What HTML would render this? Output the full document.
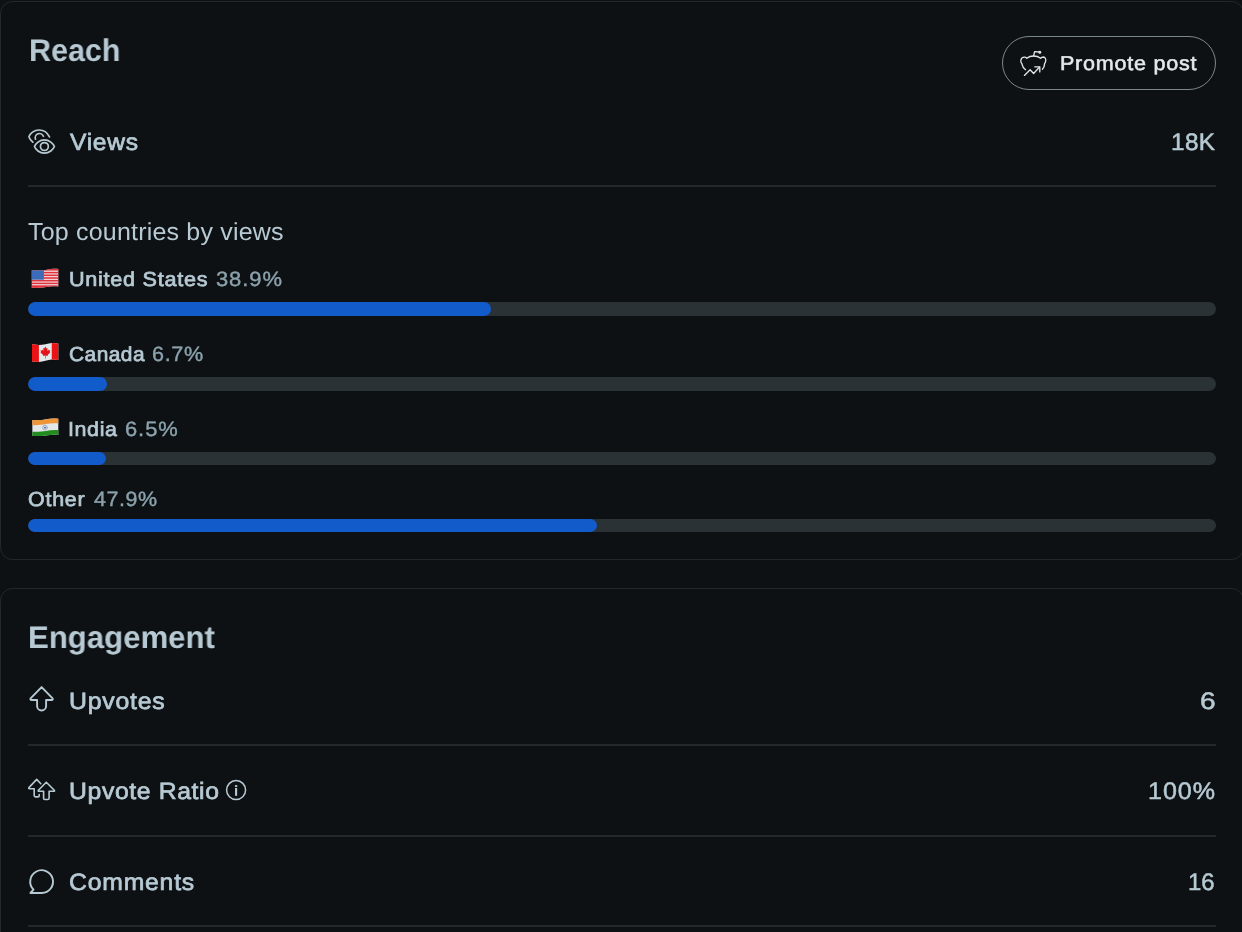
<!DOCTYPE html>
<html>
<head>
<meta charset="utf-8">
<title>Post insights</title>
<style>
  html, body { margin:0; padding:0; }
  body { width:1242px; height:932px; overflow:hidden; position:relative; background:#0E1113;
         font-family:"Liberation Sans", sans-serif; }
  .card { position:absolute; box-sizing:border-box; border:1.5px solid #23282B; border-radius:12.5px; background:#0E1113; }
  #card1 { left:-0.2px; top:0.6px; width:1244.4px; height:559.6px; }
  #card2 { left:-0.2px; top:587.7px; width:1244.4px; height:420px; }
  .div { position:absolute; left:28px; width:1188px; height:2px; background:#23282B; }
  .track { position:absolute; left:28px; width:1188px; height:13.6px; border-radius:7px; background:#2A3236; overflow:hidden; }
  .fill { position:absolute; left:0; top:0; height:100%; border-radius:7px; background:#125BCB; }
  .t { position:absolute; white-space:nowrap; line-height:1; transform-origin:0 0; display:block; text-rendering:geometricPrecision; will-change:transform; }
  .btn { position:absolute; box-sizing:border-box; left:1001.6px; top:35.6px; width:214.6px; height:54.4px; border-radius:28px; border:1.3px solid #7C878C; }
  svg { position:absolute; overflow:visible; }
</style>
</head>
<body>
<div class="card" id="card1"></div>
<div class="card" id="card2"></div>

<div class="btn"></div>

<div class="div" style="top:184.8px"></div>
<div class="div" style="top:744.0px"></div>
<div class="div" style="top:834.6px"></div>
<div class="div" style="top:925.2px"></div>

<div class="track" style="top:302.0px"><div class="fill" style="width:463px"></div></div>
<div class="track" style="top:377.0px"><div class="fill" style="width:79.2px"></div></div>
<div class="track" style="top:451.8px"><div class="fill" style="width:78px"></div></div>
<div class="track" style="top:518.6px"><div class="fill" style="width:569px"></div></div>

<svg id="ov" width="1242" height="932" viewBox="0 0 1242 932" style="left:0;top:0" fill="none" stroke-linecap="round" stroke-linejoin="round">
  <!-- promote icon -->
  <g stroke="#DEE6EA" stroke-width="1.35">
    <path d="M1025.6 69.7 C1023.4 68.2 1022.3 66.2 1021.8 63.6 C1020.8 62.8 1020.6 61.2 1020.9 59.9 C1021.4 57.9 1023.0 56.9 1025.0 57.1 C1025.8 57.2 1026.3 57.7 1026.7 58.3 C1028.5 56.9 1030.8 56.0 1033.5 56.0 C1036.2 56.0 1038.8 56.9 1040.6 58.3 C1041.2 57.5 1042.2 57.0 1043.3 57.0 C1045.1 57.1 1046.1 59.0 1045.7 61.0 C1045.5 62.2 1045.1 63.1 1044.6 63.6 C1044.5 66.0 1043.7 68.0 1042.4 69.3"/>
    <path d="M1033.6 55.9 L1034.6 51.6 L1038.6 51.8"/>
    <circle cx="1039.8" cy="52.3" r="0.9" fill="#DEE6EA"/>
    <path d="M1024.4 75.4 L1030.1 69.8 L1033.6 73.5 L1039.4 67.3"/>
    <path d="M1034.8 66.8 L1039.8 66.8 L1039.8 71.9"/>
  </g>
  <!-- views icon -->
  <g stroke="#B7CAD4" stroke-width="1.7">
    <path d="M32.9 142.2 C31.0 140.8 29.6 138.6 28.9 136.7 C30.0 133.6 34.0 130.0 39.0 130.0 C43.4 130.0 47.6 133.0 49.5 136.9"/>
    <path d="M35.5 139.2 A4.2 4.2 0 0 1 43.4 136.3"/>
    <path d="M34.5 146.5 C35.5 143.5 39.5 139.9 44.4 139.9 C49.3 139.9 53.3 143.5 54.4 146.5 C53.3 149.5 49.3 153.2 44.4 153.2 C39.5 153.2 35.5 149.5 34.5 146.5 Z"/>
    <circle cx="44.4" cy="146.5" r="3.95"/>
  </g>
  <!-- upvote icon -->
  <g stroke="#B7CAD4" stroke-width="1.9">
    <path d="M41.6 687.1 L52.6 698.4 Q53.3 700.0 51.6 700.0 L46.1 700.0 L46.1 706.0 A4.5 4.5 0 0 1 37.1 706.0 L37.1 700.0 L31.6 700.0 Q29.9 700.0 30.6 698.4 Z"/>
  </g>
  <!-- upvote ratio icon -->
  <g stroke="#B7CAD4" stroke-width="1.6">
    <path d="M40.8 783.7 L36.7 779.4 L28.9 787.6 Q28.3 788.7 29.5 788.8 L34.2 788.8 L34.2 795.6 Q34.2 796.9 35.5 796.9 L38.0 796.9 Q39.2 796.9 39.2 795.7 L39.2 794.6"/>
    <path d="M46.3 782.2 L54.3 790.2 Q54.9 791.3 53.7 791.3 L49.1 791.3 L49.1 798.2 Q49.1 799.5 47.8 799.5 L44.9 799.5 Q43.6 799.5 43.6 798.2 L43.6 791.3 L39.0 791.3 Q37.8 791.3 38.4 790.2 Z"/>
  </g>
  <!-- info icon -->
  <g stroke="#B7CAD4">
    <circle cx="236.1" cy="790.1" r="9.5" stroke-width="1.5"/>
    <path d="M236.1 787.9 L236.1 795.8" stroke-width="2.1" stroke-linecap="butt"/>
    <path d="M236.1 785.1 L236.1 786.9" stroke-width="2.3" stroke-linecap="butt"/>
  </g>
  <!-- comments icon -->
  <g stroke="#B7CAD4" stroke-width="1.9">
    <path d="M30.4 893.0 L41.7 893.0 A11.4 11.4 0 1 0 33.5 889.6 Z"/>
  </g>

  <!-- US flag -->
  <defs>
    <clipPath id="usclip"><path d="M31.8 270.2 C38 270.7 44 270.5 50 269.3 C53 268.7 56 268.7 58.3 269.0 L58.3 286.6 C56 286.2 53 286.0 50 286.5 C44 287.6 38 288.2 31.8 287.8 Z"/></clipPath>
    <clipPath id="caclip"><path d="M32 344.2 L38.9 345.1 C43 344.9 48 343.6 51.75 342.9 L58.3 343.4 L58.3 360.0 L51.75 359.4 C48 360.0 43 361.6 38.9 361.9 L32 361.4 Z"/></clipPath>
    <clipPath id="inclip"><path d="M32.35 419.9 C37 420.4 42 420.0 46 419.2 C50 418.3 54 418.2 58.3 418.7 L58.3 434.9 C54 434.5 50 434.6 46 435.4 C42 436.1 37 436.3 32.35 435.9 Z"/></clipPath>
  </defs>
  <g clip-path="url(#usclip)" stroke="none">
    <rect x="31" y="268" width="28" height="21" fill="#F3E4E6"/>
    <g fill="#E0323C">
      <rect x="31" y="268.4" width="28" height="2.2"/>
      <rect x="31" y="271.8" width="28" height="1.6"/>
      <rect x="31" y="274.5" width="28" height="1.6"/>
      <rect x="31" y="277.2" width="28" height="1.6"/>
      <rect x="31" y="279.9" width="28" height="1.6"/>
      <rect x="31" y="282.6" width="28" height="1.6"/>
      <rect x="31" y="285.3" width="28" height="3.2"/>
    </g>
    <rect x="31" y="269" width="12.9" height="10.7" fill="#3A6CBA"/>
  </g>
  <!-- Canada flag -->
  <g clip-path="url(#caclip)" stroke="none">
    <rect x="31" y="341" width="28" height="22" fill="#E4E8EB"/>
    <rect x="31" y="341" width="7.9" height="22" fill="#EA1416"/>
    <rect x="51.75" y="341" width="7" height="22" fill="#EA1416"/>
    <path fill="#E21418" d="M45.4 346.6 L46.5 348.6 L47.6 348.1 L47.2 350.9 L48.6 349.6 L48.9 350.5 L50.3 350.2 L49.7 352.2 L50.3 352.6 L47.6 355.0 L47.9 355.9 L45.7 355.6 L45.7 358.6 L45.1 358.6 L45.1 355.6 L42.9 355.9 L43.2 355.0 L40.4 352.6 L41.1 352.2 L40.5 350.2 L41.9 350.5 L42.2 349.6 L43.6 350.9 L43.2 348.1 L44.3 348.6 Z"/>
  </g>
  <!-- India flag -->
  <g clip-path="url(#inclip)" stroke="none">
    <rect x="31" y="417" width="28" height="21" fill="#E3E7EA"/>
    <path fill="#EE953A" d="M31 417 L59 417 L59 423.5 C54 423.0 50 423.2 46 424.1 C42 424.9 37 425.4 31 425.1 Z"/>
    <path fill="#238C1F" d="M31 431.6 C37 432.0 42 431.6 46 430.9 C50 430.1 54 429.9 59 430.2 L59 438 L31 438 Z"/>
    <circle cx="45.0" cy="427.6" r="2.3" fill="none" stroke="#9FADC0" stroke-width="1.0"/>
    <circle cx="45.0" cy="427.6" r="0.9" fill="#2F55B0"/>
  </g>
</svg>

<span class="t" style="left:28.50px;top:35px;font-size:31.4px;font-weight:700;color:#B7CAD4;transform:scaleX(0.9706);">Reach</span>
<span class="t" style="left:69.65px;top:131px;font-size:23.55px;font-weight:400;color:#B7CAD4;transform:scaleX(1.0449);letter-spacing:0.663px;-webkit-text-stroke:0.7px #B7CAD4;">Views</span>
<span class="t" style="left:1171.13px;top:131px;font-size:23.84px;font-weight:400;color:#B7CAD4;transform:scaleX(1.0188);letter-spacing:0.375px;-webkit-text-stroke:0.5px #B7CAD4;">18K</span>
<span class="t" style="left:28.41px;top:221px;font-size:24.56px;font-weight:400;color:#B7CAD4;transform:scaleX(1.0174);letter-spacing:0.201px;">Top countries by views</span>
<span class="t" style="left:68.80px;top:270px;font-size:20.2px;font-weight:400;color:#B7CAD4;transform:scaleX(1.0717);letter-spacing:0.666px;-webkit-text-stroke:0.7px #B7CAD4;">United States</span>
<span class="t" style="left:215.51px;top:270px;font-size:20.64px;font-weight:400;color:#8BA2AD;transform:scaleX(1.0641);letter-spacing:0.862px;-webkit-text-stroke:0.4px #8BA2AD;">38.9%</span>
<span class="t" style="left:68.77px;top:345px;font-size:20.2px;font-weight:400;color:#B7CAD4;transform:scaleX(1.0340);letter-spacing:0.460px;-webkit-text-stroke:0.7px #B7CAD4;">Canada</span>
<span class="t" style="left:152.49px;top:345px;font-size:20.64px;font-weight:400;color:#8BA2AD;transform:scaleX(1.0455);letter-spacing:0.660px;-webkit-text-stroke:0.4px #8BA2AD;">6.7%</span>
<span class="t" style="left:68.28px;top:420px;font-size:20.2px;font-weight:400;color:#B7CAD4;transform:scaleX(1.0596);letter-spacing:0.595px;-webkit-text-stroke:0.7px #B7CAD4;">India</span>
<span class="t" style="left:125.47px;top:420px;font-size:20.64px;font-weight:400;color:#8BA2AD;transform:scaleX(1.0620);letter-spacing:0.885px;-webkit-text-stroke:0.4px #8BA2AD;">6.5%</span>
<span class="t" style="left:28.24px;top:490px;font-size:20.2px;font-weight:400;color:#B7CAD4;transform:scaleX(1.0619);letter-spacing:0.721px;-webkit-text-stroke:0.7px #B7CAD4;">Other</span>
<span class="t" style="left:93.86px;top:490px;font-size:20.64px;font-weight:400;color:#8BA2AD;transform:scaleX(1.0401);letter-spacing:0.554px;-webkit-text-stroke:0.4px #8BA2AD;">47.9%</span>
<span class="t" style="left:1060.09px;top:54px;font-size:20.13px;font-weight:400;color:#E3E9ED;transform:scaleX(1.0708);letter-spacing:0.710px;-webkit-text-stroke:0.55px #E3E9ED;">Promote post</span>
<span class="t" style="left:28.45px;top:622px;font-size:31.4px;font-weight:700;color:#B7CAD4;transform:scaleX(0.9919);">Engagement</span>
<span class="t" style="left:68.70px;top:690px;font-size:23.55px;font-weight:400;color:#B7CAD4;transform:scaleX(1.0547);letter-spacing:0.728px;-webkit-text-stroke:0.7px #B7CAD4;">Upvotes</span>
<span class="t" style="left:1200.03px;top:690px;font-size:23.84px;font-weight:400;color:#B7CAD4;transform:scaleX(1.1812);-webkit-text-stroke:0.5px #B7CAD4;">6</span>
<span class="t" style="left:68.70px;top:780px;font-size:23.55px;font-weight:400;color:#B7CAD4;transform:scaleX(1.0512);letter-spacing:0.592px;-webkit-text-stroke:0.7px #B7CAD4;">Upvote Ratio</span>
<span class="t" style="left:1147.68px;top:780px;font-size:23.84px;font-weight:400;color:#B7CAD4;transform:scaleX(1.0504);letter-spacing:0.940px;-webkit-text-stroke:0.5px #B7CAD4;">100%</span>
<span class="t" style="left:69.09px;top:871px;font-size:23.55px;font-weight:400;color:#B7CAD4;transform:scaleX(1.0504);letter-spacing:0.768px;-webkit-text-stroke:0.7px #B7CAD4;">Comments</span>
<span class="t" style="left:1188.26px;top:871px;font-size:23.84px;font-weight:400;color:#B7CAD4;transform:scaleX(1.0029);letter-spacing:0.069px;-webkit-text-stroke:0.5px #B7CAD4;">16</span>
</body>
</html>
